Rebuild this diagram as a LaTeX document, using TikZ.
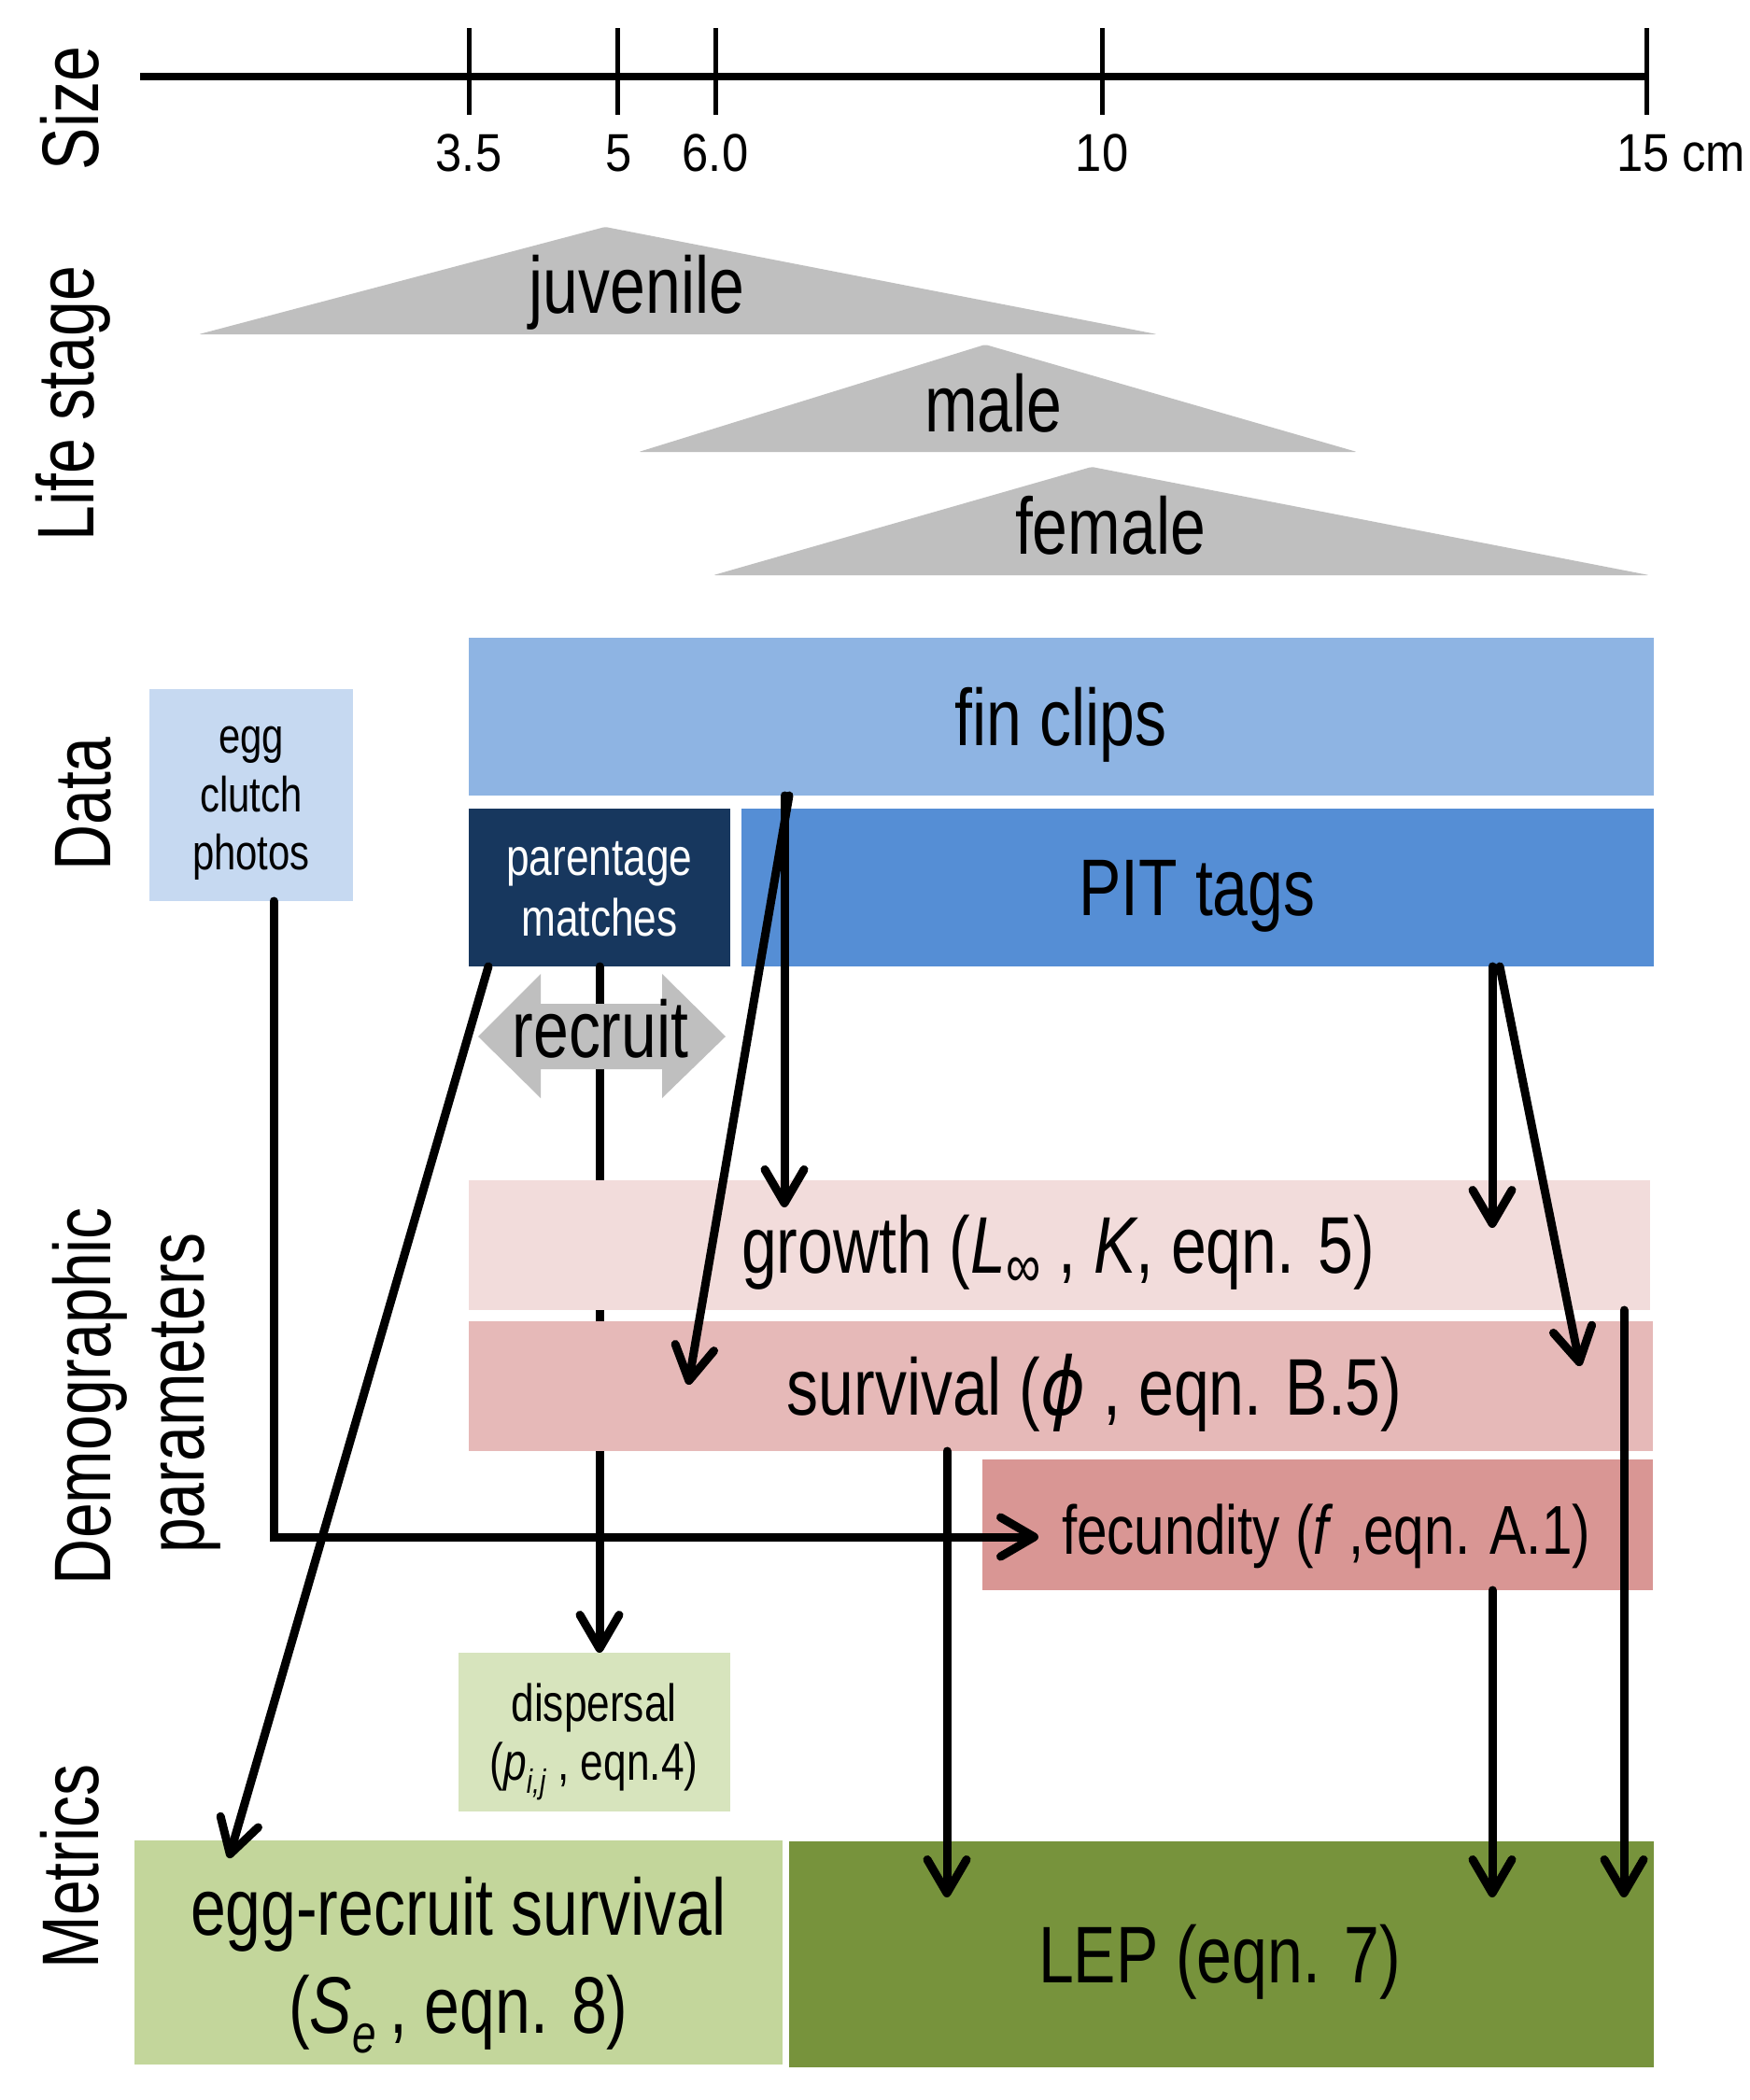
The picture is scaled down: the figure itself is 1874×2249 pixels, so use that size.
\documentclass[tikz,border=0pt]{standalone}
\usepackage{fontspec}
\setmainfont[FakeStretch=0.79]{Liberation Sans}
\newfontfamily\tickfont[FakeStretch=0.89]{Liberation Sans}
\newfontfamily\greekfont[FakeStretch=0.85]{DejaVu Sans}
\usetikzlibrary{arrows.meta}
\definecolor{cegg}{HTML}{C6D9F1}
\definecolor{cfin}{HTML}{8EB4E3}
\definecolor{cpit}{HTML}{558ED5}
\definecolor{cpar}{HTML}{17375E}
\definecolor{cgro}{HTML}{F2DCDB}
\definecolor{csur}{HTML}{E6B9B8}
\definecolor{cfec}{HTML}{D99694}
\definecolor{cdis}{HTML}{D7E4BD}
\definecolor{cerc}{HTML}{C3D69B}
\definecolor{clep}{HTML}{77933C}
\definecolor{cgray}{HTML}{BFBFBF}
\begin{document}
\begin{tikzpicture}[x=1pt,y=-1pt,
  box/.style={rectangle, inner sep=0pt, outer sep=0pt, draw=none},
  big/.style={font=\fontsize{86}{100}\selectfont, inner sep=0pt, outer sep=0pt, anchor=base},
  small/.style={font=\fontsize{#1}{#1}\selectfont, inner sep=0pt, outer sep=0pt, anchor=base},
  side/.style={big, rotate=90},
  tick/.style={font=\tickfont\fontsize{57}{57}\selectfont, inner sep=0pt, outer sep=0pt, anchor=base},
  arr/.style={line width=9pt, line cap=round, -{Straight Barb[length=36pt,width=42pt,round]}},
  tri/.style={fill=cgray, rounded corners=2pt},
]
\useasboundingbox[fill=white] (0,0) rectangle (1874,2249);

% side labels
\node[side] (lsize) at (105,116) {Size};
\node[side] (llife) at (100,432) {Life stage};
\node[side] (ldata) at (118,861) {Data};
\node[side] (ldemo) at (118,1495) {Demographic};
\node[side] (lpara) at (218,1492) {parameters};
\node[side] (lmet) at (105,1999) {Metrics};

% size axis
\coordinate (ax0) at (150,82);
\coordinate (ax1) at (1765,82);
\draw[line width=8pt] (ax0) -- (ax1);
\foreach \x in {502,661,766,1180,1763}
  \draw[line width=5pt] (\x,30) -- (\x,123);
\node[tick] (t1) at (502,183) {3.5};
\node[tick] (t2) at (663,183) {5};
\node[tick] (t3) at (766,183) {6.0};
\node[tick] (t4) at (1180,183) {10};
\node[tick, anchor=base west] (t5) at (1731,183) {15 cm};

% life stage triangles
\fill[tri] (213,358) -- (648,243) -- (1239,358) -- cycle;
\fill[tri] (684,484) -- (1055,369) -- (1453,484) -- cycle;
\fill[tri] (764,616) -- (1169,500) -- (1766,616) -- cycle;
\node[big] (juv) at (682,335) {juvenile};
\node[big] (mal) at (1064,462) {male};
\node[big] (fem) at (1189,593) {female};

% boxes
\node[box, fill=cegg, minimum width=218pt, minimum height=227pt] (eggph) at (269,851.5) {};
\node[box, fill=cfin, minimum width=1269pt, minimum height=169pt] (fin) at (1136.5,767.5) {};
\node[box, fill=cpar, minimum width=280pt, minimum height=169pt] (par) at (642,950.5) {};
\node[box, fill=cpit, minimum width=977pt, minimum height=169pt] (pit) at (1282.5,950.5) {};

% dispersal line (behind boxes)
\node[box, minimum width=291pt, minimum height=170pt] (dispP) at (636.5,1855) {};
\draw[arr] (par.south) -- (par.south |- dispP.north);

\node[box, fill=cgro, minimum width=1265pt, minimum height=139pt] (gro) at (1134.5,1333.5) {};
\node[box, fill=csur, minimum width=1268pt, minimum height=139pt] (sur) at (1136,1484.5) {};
\node[box, fill=cfec, minimum width=718pt, minimum height=140pt] (fec) at (1411,1633) {};
\node[box, fill=cdis, minimum width=291pt, minimum height=170pt] (dis) at (636.5,1855) {};
\node[box, fill=cerc, minimum width=694pt, minimum height=240pt] (erc) at (491,2091) {};
\node[box, fill=clep, minimum width=926pt, minimum height=242pt] (lep) at (1308,2093) {};

% recruit double arrow
\fill[cgray] (512,1110) -- (579,1043) -- (579,1075) -- (709,1075) -- (709,1043)
  -- (777,1110) -- (709,1176) -- (709,1145) -- (579,1145) -- (579,1176) -- cycle;
\node[big] (rec) at (643,1132) {recruit};

% texts
\node[small=53] (e1) at (269,806) {egg};
\node[small=53] (e2) at (269,869) {clutch};
\node[small=53] (e3) at (269,931) {photos};
\node[big] (tfin) at (1136,798) {fin clips};
\node[small=56, text=white] (p1) at (642,937) {parentage};
\node[small=56, text=white] (p2) at (642,1002) {matches};
\node[big] (tpit) at (1282,980) {PIT tags};
\node[big] (tgro) at (1133,1363) {growth (\textit{L}\raisebox{-0.18em}{\fontsize{66}{66}\selectfont ∞} , \textit{K}, eqn. 5)};
\node[big] (tsur) at (1172,1515) {survival ({\greekfont\itshape ϕ} , eqn. B.5)};
\node[small=74, anchor=base west] (tfec) at (1137,1664) {fecundity (\textit{f} ,eqn. A.1)};
\node[small=56] (d1) at (636,1843) {dispersal};
\node[small=56] (d2) at (636,1906) {(\textit{p}\raisebox{-0.25em}{\fontsize{36}{36}\selectfont\textit{i,j}} , eqn.4)};
\node[big] (r1) at (491,2072) {egg-recruit survival};
\node[big] (r2) at (491,2177) {(\textit{S}\raisebox{-0.25em}{\fontsize{58}{58}\selectfont\textit{e}}\,, eqn. 8)};
\node[big] (tlep) at (1306,2123) {LEP (eqn. 7)};

% connector ends
\coordinate (fA) at (1112,1646);
\coordinate (eA) at (245,1990);
\coordinate (gA) at (840,1293);
\coordinate (sA) at (737,1483);
\coordinate (gB) at (1598,1315);
\coordinate (sB) at (1692,1463);
\coordinate (lA) at (1014,2032);
\coordinate (lB) at (1598,2032);
\coordinate (lC) at (1739,2032);

% connectors
\draw[arr] ([xshift=24pt]eggph.south) |- (fA);
\draw[arr] ([xshift=21pt]par.south west) -- (eA);
\draw[arr] (fin.south -| gA) -- (gA);
\draw[arr] ([xshift=343pt]fin.south west) -- (sA);
\draw[arr] (pit.south -| gB) -- (gB);
\draw[arr] ([xshift=812pt]pit.south west) -- (sB);
\draw[arr] (gro.south -| lC) -- (lC);
\draw[arr] (sur.south -| lA) -- (lA);
\draw[arr] (fec.south -| lB) -- (lB);
\end{tikzpicture}
\end{document}
